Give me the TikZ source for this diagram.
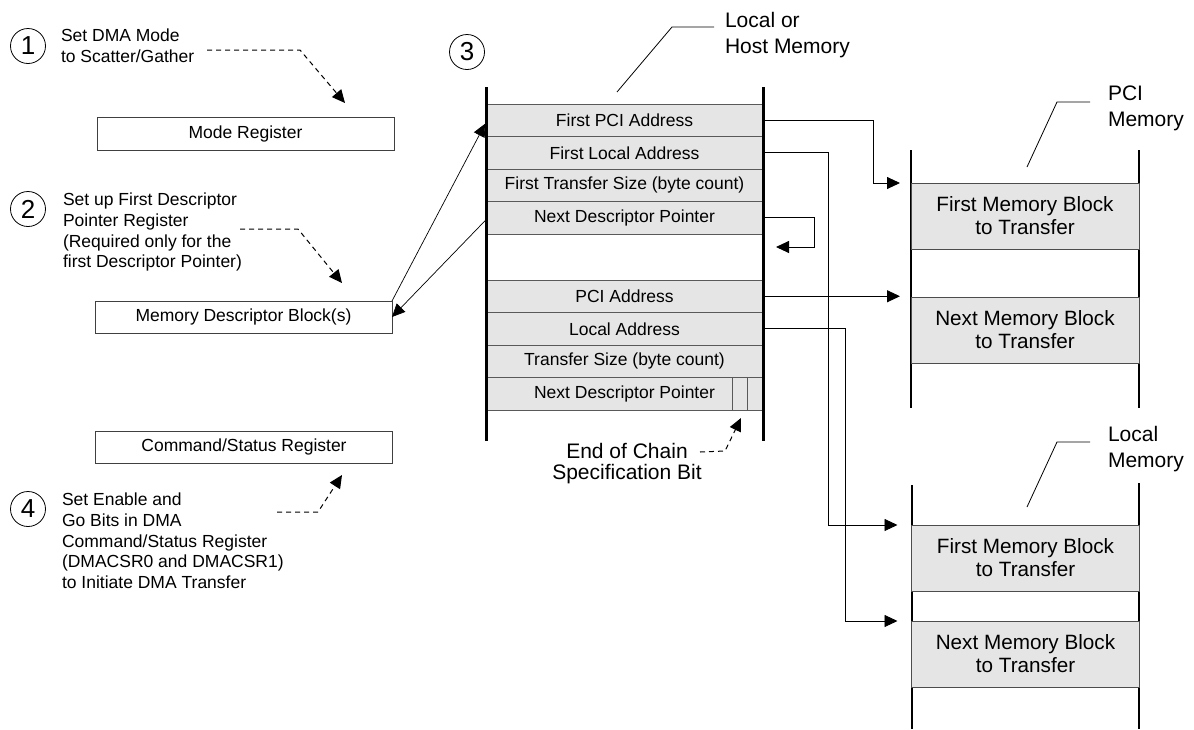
\documentclass[tikz,border=0pt]{standalone}
\usepackage{fontspec}
\setmainfont{Liberation Sans}
\usetikzlibrary{arrows.meta}
\begin{document}
\begin{tikzpicture}[x=1pt,y=-1pt,
  every node/.style={inner sep=0pt, outer sep=0pt},
  txt/.style={font=\fontsize{17.5}{20.7}\selectfont, align=left, anchor=north west},
  big/.style={font=\fontsize{21}{26}\selectfont, align=left, anchor=north west},
  reg/.style={draw=black!75, line width=0.9pt, minimum width=297pt, minimum height=33pt, font=\fontsize{17.5}{20.7}\selectfont},
  row/.style={draw=black!65, fill=black!10, line width=0.9pt, minimum width=277pt, minimum height=32.5pt, font=\fontsize{17.5}{20.7}\selectfont},
  blk/.style={draw=black!70, fill=black!10, line width=1pt, minimum width=228pt, minimum height=66pt, align=center, font=\fontsize{20.7}{23}\selectfont},
  num/.style={draw, circle, line width=0.8pt, minimum size=35pt, font=\fontsize{26}{26}\selectfont},
  conn/.style={line width=0.9pt, -{Triangle[length=13pt,width=12pt]}},
  dasharrow/.style={line width=1pt, dash pattern=on 5pt off 4pt, -{Triangle[length=13pt,width=12pt]}},
  leader/.style={line width=0.8pt},
  bar/.style={line width=3pt},
  col/.style={line width=1.2pt}
]
\useasboundingbox (0,0) rectangle (1194,729);

% step numbers
\node[num] (n1) at (28,46) {1};
\node[num] (n2) at (28,209) {2};
\node[num] (n3) at (467,52) {3};
\node[num] (n4) at (28,509) {4};

% step texts
\node[txt] (t1) at (61,29) {Set DMA Mode\\to Scatter/Gather};
\node[txt] (t2) at (63,193) {Set up First Descriptor\\Pointer Register\\(Required only for the\\first Descriptor Pointer)};
\node[txt] (t4) at (62,493) {Set Enable and\\Go Bits in DMA\\Command/Status Register\\(DMACSR0 and DMACSR1)\\to Initiate DMA Transfer};

% registers
\node[reg] (mode) at (245.5,133.5) {Mode Register};
\node[reg, minimum height=32pt] (mdb) at (243.5,317) {Memory Descriptor Block(s)};
\node[reg, minimum height=32pt] (csr) at (244,447) {Command/Status Register};

% dashed step arrows
\coordinate (d1a) at (207,50); \coordinate (d1b) at (300,50); \coordinate (d1c) at (345,103);
\draw[dasharrow] (d1a) -- (d1b) -- (d1c);
\coordinate (d2a) at (240,229); \coordinate (d2b) at (298,229); \coordinate (d2c) at (342,283);
\draw[dasharrow] (d2a) -- (d2b) -- (d2c);
\coordinate (d4a) at (277,512); \coordinate (d4b) at (318,512); \coordinate (d4c) at (342,475);
\draw[dasharrow] (d4a) -- (d4b) -- (d4c);

% descriptor table
\node[row] (r1) at (624.5,120.25) {First PCI Address};
\node[row] (r2) at (624.5,152.75) {First Local Address};
\node[row] (r3) at (624.5,185.25) {First Transfer Size (byte count)};
\node[row] (r4) at (624.5,217.75) {Next Descriptor Pointer};
\node[row] (s1) at (624.5,296.25) {PCI Address};
\node[row] (s2) at (624.5,328.75) {Local Address};
\node[row] (s3) at (624.5,361.25) {Transfer Size (byte count)};
\node[row] (s4) at (624.5,393.75) {Next Descriptor Pointer};
\draw[draw=black!65, line width=0.9pt] ([xshift=-31pt]s4.north east) -- ([xshift=-31pt]s4.south east)
  ([xshift=-16pt]s4.north east) -- ([xshift=-16pt]s4.south east);
\draw[bar] (486,87) -- (486,441);
\draw[bar] (763,87) -- (763,441);

% memory labels
\node[big] (lhm) at (725,12) {Local or\\Host Memory};
\draw[leader] (714,27) -- (672,27) -- (617,92);
\node[big] (pcim) at (1108,86) {PCI\\Memory};
\draw[leader] (1090,102) -- (1057,102) -- (1027,167);
\node[big] (locm) at (1108,426) {Local\\Memory};
\draw[leader] (1090,442) -- (1057,442) -- (1027,507);

% memory columns
\draw[col] (911,150) -- (911,408);
\draw[col] (1139,150) -- (1139,408);
\draw[col] (912,485) -- (912,729);
\draw[col] (1139,483) -- (1139,729);
\node[blk] (pci1) at (1025,216) {First Memory Block\\to Transfer};
\node[blk] (pci2) at (1025,330) {Next Memory Block\\to Transfer};
\node[blk] (loc1) at (1025.5,558) {First Memory Block\\to Transfer};
\node[blk] (loc2) at (1025.5,654) {Next Memory Block\\to Transfer};

% end of chain
\node[font=\fontsize{21}{21}\selectfont, align=center, anchor=north] (eoc) at (627,443) {End of Chain\\Specification Bit};
\coordinate (e1) at (700,452); \coordinate (e2) at (725,451); \coordinate (e3) at (741,418);
\draw[dasharrow] (e1) -- (e2) -- (e3);

% connectors
\draw[conn, shorten >=11pt] (r1.east) -| ([xshift=-38pt]pci1.north west) -- (pci1.north west);
\draw[conn, shorten >=14pt] (r2.east) -| ([xshift=-83pt]loc1.north west) -- (loc1.north west);
\coordinate (lp1) at (814,247); \coordinate (lp2) at (776,247);
\draw[conn] (r4.east) -| (lp1) -- (lp2);
\draw[conn, shorten >=11pt] (s1.east) -- (s1.east -| pci2.west);
\draw[conn, shorten >=14pt] (s2.east) -| ([xshift=-66pt]loc2.north west) -- (loc2.north west);
\draw[conn, line width=0.7pt, shorten >=1.5pt] (mdb.north east) -- ([yshift=-2pt]r1.west);
\draw[conn, line width=0.7pt] ([yshift=-2pt]r4.west) -- (mdb.east);
\end{tikzpicture}
\end{document}
